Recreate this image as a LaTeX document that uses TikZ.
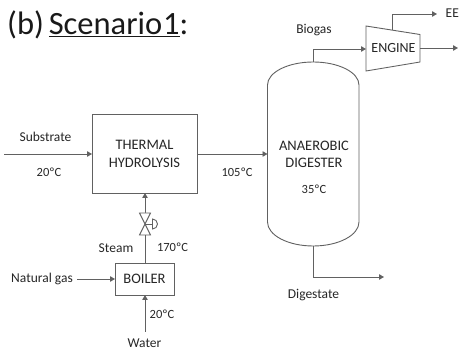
\documentclass[tikz,border=0pt]{standalone}
\usepackage{fontspec}
\setmainfont{Carlito}
\usetikzlibrary{arrows.meta}
\definecolor{ln}{gray}{0.38}
\tikzset{
 x=1pt,y=-1pt,
 flow/.style={draw=ln,line width=0.9pt,-{Triangle[length=5pt,width=5.5pt]}},
 pipe/.style={draw=ln,line width=0.9pt},
 unit/.style={draw=ln,line width=0.9pt,fill=white,align=center,inner sep=0pt,font=\fontsize{14.5}{18}\selectfont,text=black!85},
 lab/.style={inner sep=0pt,font=\fontsize{14.5}{17.5}\selectfont,text=black!85},
 small/.style={inner sep=0pt,font=\fontsize{13.5}{16}\selectfont,text=black!85},
 temp/.style={inner sep=0pt,font=\fontsize{12.5}{14}\selectfont,text=black!85}
}
\begin{document}
\begin{tikzpicture}
\useasboundingbox (0,0) rectangle (459,350);
\node[inner sep=0pt,anchor=base west,font=\fontsize{32.5}{36}\selectfont,text=black!90] (title) at (7,35) {(b)\kern-2.5pt{} \underline{Scenario\kern1pt1}:};
% units
\node[unit,minimum width=105pt,minimum height=79pt] (th) at (144.5,153.5) {THERMAL\\HYDROLYSIS};
\node[unit,minimum width=59pt,minimum height=32pt] (bo) at (144.5,279) {BOILER};
% digester
\draw[pipe,fill=white] (267.5,85) arc[start angle=180,end angle=0,x radius=45.75pt,y radius=23pt] -- (359,222) arc[start angle=0,end angle=-180,x radius=45.75pt,y radius=24pt] -- cycle;
\node[lab,align=center] (dig) at (314,154.5) {ANAEROBIC\\DIGESTER};
\node[temp] (dt) at (314,189) {35ºC};
% engine
\draw[pipe,fill=white] (366,26) -- (420,34.5) -- (420,62) -- (366,71) -- cycle;
\node[lab,font=\fontsize{14}{17}\selectfont] (eng) at (393.5,48) {ENGINE};
% coordinates
\coordinate (sub) at (4,154);
\coordinate (water) at (145,332);
\coordinate (gas) at (77,279);
\coordinate (vt) at (145,213);
\coordinate (vb) at (145,235);
\coordinate (vc) at (145,224);
\coordinate (ee) at (437,14);
\coordinate (out) at (458,48);
\coordinate (dg) at (384,277);
% flows
\draw[flow] (sub) -- (92,154);
\draw[flow] (197,154) -- (267.5,154);
\draw[flow] (gas) -- (115,279);
\draw[flow] (water) -- (145,295);
\draw[pipe] (145,263) -- (vb);
\draw[flow] (vt) -- (145,193);
\draw[pipe,fill=white] (139.5,213) -- (150.5,235) -- (139.5,235) -- (150.5,213) -- cycle;
\draw[pipe] (vc) -- (152,224);
\draw[pipe] (152.5,219) -- (152.5,229) arc[start angle=-90,end angle=90,radius=5pt] -- cycle;
\draw[flow] (313,62) -- (313,49) -- (366,49);
\draw[flow] (392,30) -- (392,14) -- (ee);
\draw[flow] (420,48) -- (out);
\draw[flow] (313,246) -- (313,277) -- (dg);
% labels
\node[small] (l1) at (45.5,137) {Substrate};
\node[temp] (l2) at (49,172) {20ºC};
\node[temp] (l3) at (237,172) {105ºC};
\node[small] (l4) at (314,30) {Biogas};
\node[small,anchor=west] (l5) at (445.5,13) {EE};
\node[small] (l6) at (116,248) {Steam};
\node[temp] (l7) at (172.5,247) {170ºC};
\node[small] (l8) at (42,279) {Natural gas};
\node[temp] (l9) at (162,314) {20ºC};
\node[small] (l10) at (144.5,343) {Water};
\node[small] (l11) at (313.5,295) {Digestate};
\end{tikzpicture}
\end{document}
